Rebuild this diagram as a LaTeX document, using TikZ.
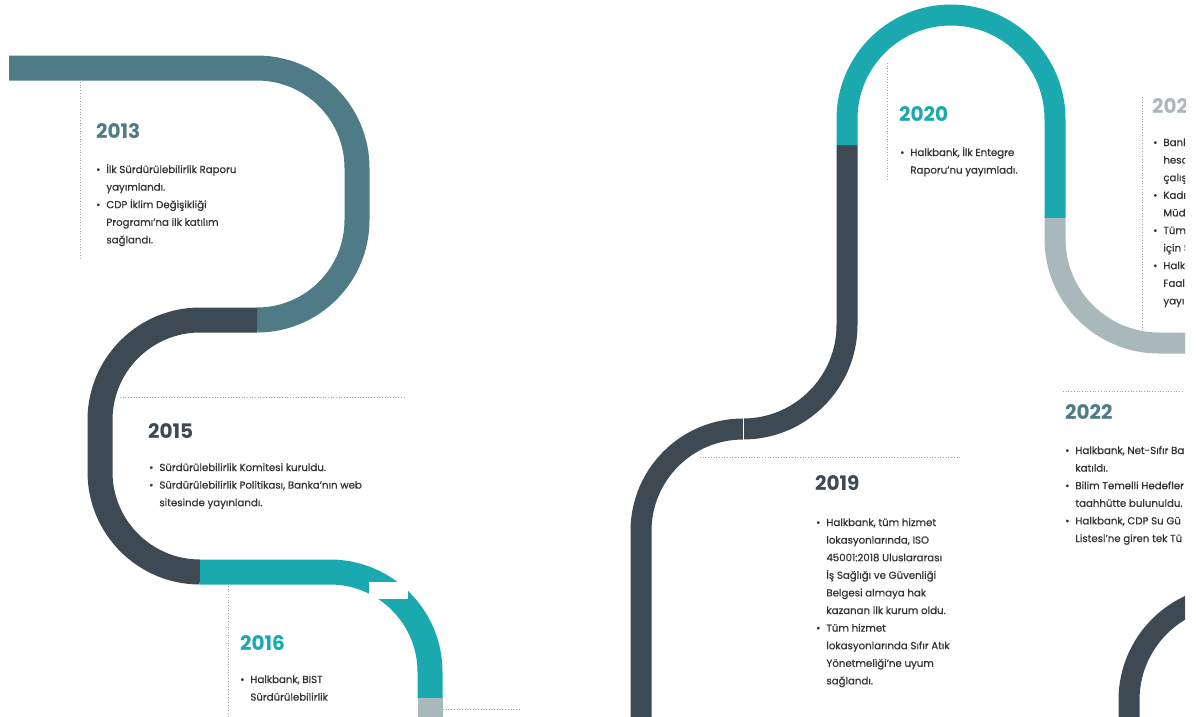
\documentclass[tikz,border=0pt]{standalone}
\usepackage{fontspec}
\setmainfont{Poppins}
\newfontfamily\bodyfont[FakeBold=0.6]{Poppins}
\definecolor{cA}{HTML}{4E7B85}
\definecolor{cD}{HTML}{3D4953}
\definecolor{cT}{HTML}{19A9AE}
\definecolor{cL}{HTML}{A8B8BB}
\definecolor{cTxt}{HTML}{333333}
\definecolor{cDot}{HTML}{9AA9AF}
\tikzset{
  bandL/.style={line width=25pt, line cap=butt},
  bandR/.style={line width=21pt, line cap=butt},
  dotline/.style={cDot, dotted, line width=0.7pt},
  yearlbl/.style={anchor=base west, inner sep=0pt, font=\fontsize{20}{20}\selectfont\bfseries},
  body/.style={anchor=base west, inner sep=0pt, text=cTxt, font=\bodyfont\fontsize{10.2}{17.6}\selectfont},
}
\newcommand{\bl}{\textbullet}
\newcommand{\gp}{@{}l@{\hspace{6pt}}l@{}}
\begin{document}
\begin{tikzpicture}[x=1pt,y=-1pt]
\useasboundingbox (0,0) rectangle (1196,716);
\begin{scope}
\clip (0,0) rectangle (1185,716);
% ---- left bands
\draw[bandL, cA] (9,68) -- (257,68) arc(-90:0:100) -- (357,220) arc(0:90:100);
\draw[bandL, cD] (257,320) -- (200,320) arc(270:180:100) -- (100,472) arc(180:90:100);
\draw[bandL, cT] (200,572) -- (330,572) arc(-90:0:100) -- (430,698);
\draw[bandL, cL] (430,698) -- (430,720);
\fill[white] (369,582) rectangle (408,599);
% ---- right bands
\draw[bandR, cD] (641,720) -- (641,531) arc(180:270:102) arc(90:0:104) -- (847,145);
\draw[white, line width=0.6pt] (743,418) -- (743,440);
\draw[bandR, cT] (847,145) -- (847,119) arc(180:360:104) -- (1055,218);
\draw[bandR, cL] (1055,218) -- (1055,239) arc(180:90:104) -- (1190,343);
\draw[bandR, cD] (1129,720) -- (1129,700) arc(180:270:104);
% ---- dotted guide lines
\draw[dotline] (80,82) -- (80,260);
\draw[dotline] (120,397) -- (405,397);
\draw[dotline] (228,586) -- (228,716);
\draw[dotline] (443,709) -- (520,709);
\draw[dotline] (887,63) -- (887,180);
\draw[dotline] (1142,97) -- (1142,330);
\draw[dotline] (700,457) -- (960,457);
\draw[dotline] (1063,391) -- (1185,391);
% ---- years
\node[yearlbl, text=cA] (y2013) at (96,138) {2013};
\node[yearlbl, text=cD] (y2015) at (148,438) {2015};
\node[yearlbl, text=cT] (y2016) at (240,650) {2016};
\node[yearlbl, text=cD] (y2019) at (815,490) {2019};
\node[yearlbl, text=cT] (y2020) at (899,121) {2020};
\node[yearlbl, text=cL] (y2021) at (1152,113) {2021};
\node[yearlbl, text=cA] (y2022) at (1065,419) {2022};
% ---- texts
\node[body] (t2013) at (96,173) {\begin{tabular}[t]{\gp}
\bl & İlk Sürdürülebilirlik Raporu\\ & yayımlandı.\\
\bl & CDP İklim Değişikliği\\ & Programı’na ilk katılım\\ & sağlandı.\end{tabular}};
\node[body] (t2015) at (149,471) {\begin{tabular}[t]{\gp}
\bl & Sürdürülebilirlik Komitesi kuruldu.\\
\bl & Sürdürülebilirlik Politikası, Banka’nın web\\ & sitesinde yayınlandı.\end{tabular}};
\node[body] (t2016) at (240,683) {\begin{tabular}[t]{\gp}
\bl & Halkbank, BIST\\ & Sürdürülebilirlik\end{tabular}};
\node[body] (t2019) at (816,526) {\begin{tabular}[t]{\gp}
\bl & Halkbank, tüm hizmet\\ & lokasyonlarında, ISO\\ & 45001:2018 Uluslararası\\ & İş Sağlığı ve Güvenliği\\ & Belgesi almaya hak\\ & kazanan ilk kurum oldu.\\
\bl & Tüm hizmet\\ & lokasyonlarında Sıfır Atık\\ & Yönetmeliği’ne uyum\\ & sağlandı.\end{tabular}};
\node[body] (t2020) at (900,156) {\begin{tabular}[t]{\gp}
\bl & Halkbank, İlk Entegre\\ & Raporu’nu yayımladı.\end{tabular}};
\node[body] (t2021) at (1153,146) {\begin{tabular}[t]{\gp}
\bl & Bank\\ & hesa\\ & çalış\\ \bl & Kadı\\ & Müd\\ \bl & Tüm\\ & için S\\ \bl & Halk\\ & Faal\\ & yayı\end{tabular}};
\node[body] (t2022) at (1065,454) {\begin{tabular}[t]{\gp}
\bl & Halkbank, Net-Sıfır Ba\\ & katıldı.\\
\bl & Bilim Temelli Hedefler\\ & taahhütte bulunuldu.\\
\bl & Halkbank, CDP Su Gü\\ & Listesi’ne giren tek Tü\end{tabular}};
\end{scope}
\end{tikzpicture}
\end{document}
